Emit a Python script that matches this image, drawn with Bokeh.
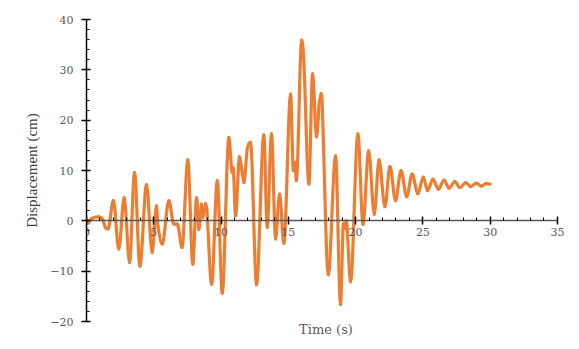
import numpy as np
from bokeh.plotting import figure
from bokeh.models import LinearAxis, SingleIntervalTicker, FixedTicker, ColumnDataSource
from bokeh.embed import file_html
from bokeh.resources import INLINE

# Time (s) and displacement (cm)
time_s = [0.0, 0.1, 0.4, 0.9, 1.2, 1.4, 1.6, 2.0, 2.4, 2.8, 3.2, 3.57, 3.97, 4.46, 4.88,
          5.2, 5.32, 5.63, 6.12, 6.45, 6.8, 7.1, 7.53, 7.9, 8.18, 8.35, 8.55, 8.65, 8.85,
          8.95, 9.3, 9.72, 10.09, 10.58, 10.83, 10.9, 11.08, 11.37, 11.55, 11.7, 11.95,
          12.19, 12.64, 13.18, 13.43, 13.75, 14.05, 14.35, 14.67, 15.17, 15.37, 15.47,
          15.6, 15.99, 16.15, 16.53, 16.8, 17.1, 17.35, 17.5, 17.97, 18.51, 18.88, 19.1,
          19.2, 19.3, 19.63, 20.17, 20.55, 20.97, 21.39, 21.74, 22.18, 22.55, 22.97,
          23.37, 23.8, 24.2, 24.63, 25.03, 25.35, 25.75, 26.15, 26.57, 26.94, 27.38,
          27.76, 28.18, 28.55, 28.97, 29.35, 29.7, 30.0]
displacement_cm = [0.0, -0.5, 0.5, 0.8, 0.3, -1.3, -1.6, 4.0, -5.6, 4.6, -8.3, 9.6, -9.0,
                   7.2, -6.3, 3.0, -1.2, -4.6, 4.0, -0.4, -0.9, -5.3, 12.1, -8.6, 4.6, -1.7,
                   3.3, 0.7, 3.4, 2.0, -12.6, 8.0, -14.4, 16.6, 9.6, 10.6, 1.0, 12.7, 10.0,
                   7.6, 14.3, 15.6, -12.7, 17.1, -1.3, 17.3, -3.6, 5.3, -4.5, 25.2, 10.0,
                   11.6, 8.0, 35.9, 31.9, 7.3, 29.2, 16.7, 24.2, 24.0, -10.7, 12.9, -16.6,
                   -0.5, -1.5, 0.0, -12.1, 17.3, -0.7, 13.9, 1.3, 12.1, 2.8, 10.8, 4.0,
                   10.0, 4.8, 9.3, 5.4, 8.7, 6.0, 8.3, 6.3, 8.1, 6.5, 7.8, 6.6, 7.6, 6.8,
                   7.5, 6.9, 7.4, 7.3]

x_tick_interval = 5
y_tick_interval = 10
x_axis_bounds = (0, 35)

# Smoothed-line rendering (like a spreadsheet "smoothed line"): each segment between
# consecutive read points is drawn as a cubic Bezier; tangents are flat at extrema.
t = np.asarray(time_s, dtype=float)
d = np.asarray(displacement_cm, dtype=float)
m = np.zeros_like(d)
for i in range(1, len(d) - 1):
    if (d[i] - d[i - 1]) * (d[i + 1] - d[i]) > 0:
        m[i] = (d[i + 1] - d[i - 1]) / (t[i + 1] - t[i - 1])
dt = np.diff(t)
src = ColumnDataSource(data=dict(
    x0=t[:-1], y0=d[:-1], x1=t[1:], y1=d[1:],
    cx0=t[:-1] + dt / 3, cy0=d[:-1] + m[:-1] * dt / 3,
    cx1=t[1:] - dt / 3, cy1=d[1:] - m[1:] * dt / 3,
))

p = figure(width=579, height=349, x_range=(0, 35.6), y_range=(-20, 40),
           output_backend="svg", toolbar_location=None,
           x_axis_location=None, y_axis_location=None,
           min_border_left=86, min_border_right=14, min_border_top=19,
           min_border_bottom=28)
p.outline_line_color = None
p.xgrid.visible = False
p.ygrid.visible = False
p.background_fill_color = "white"
p.border_fill_color = "white"

p.bezier(x0="x0", y0="y0", x1="x1", y1="y1", cx0="cx0", cy0="cy0", cx1="cx1", cy1="cy1",
         source=src, line_color="#ED7D31", line_width=3.2, line_cap="round")

tick_font = "DejaVu Serif"

yax = LinearAxis(ticker=SingleIntervalTicker(interval=y_tick_interval, num_minor_ticks=5))
yax.axis_line_color = "black"
yax.axis_line_width = 1.5
yax.major_tick_line_color = "black"
yax.major_tick_line_width = 1.5
yax.major_tick_in = 4
yax.major_tick_out = 5
yax.minor_tick_line_color = "black"
yax.minor_tick_in = 3
yax.minor_tick_out = 0
yax.major_label_text_font = tick_font
yax.major_label_text_font_size = "11px"
yax.major_label_text_color = "#595959"
yax.major_label_standoff = 8
yax.axis_label = "Displacement (cm)"
yax.axis_label_text_font = "Liberation Serif"
yax.axis_label_text_font_size = "15px"
yax.axis_label_text_font_style = "normal"
yax.axis_label_text_color = "#404040"
yax.axis_label_standoff = 7
p.add_layout(yax, "left")

xax = LinearAxis(ticker=SingleIntervalTicker(interval=x_tick_interval, num_minor_ticks=5),
                 fixed_location=0, bounds=x_axis_bounds)
xax.axis_line_color = "#595959"
xax.axis_line_width = 1.5
xax.major_tick_line_color = "black"
xax.major_tick_line_width = 1.5
xax.major_tick_in = 4
xax.major_tick_out = 4
xax.minor_tick_line_color = "black"
xax.minor_tick_in = 3
xax.minor_tick_out = 0
xax.major_label_text_font = tick_font
xax.major_label_text_font_size = "11px"
xax.major_label_text_color = "#595959"
xax.major_label_standoff = 3
p.add_layout(xax, "below")

lab = LinearAxis(ticker=FixedTicker(ticks=[]))
lab.axis_line_color = None
lab.major_tick_line_color = None
lab.minor_tick_line_color = None
lab.major_label_text_font_size = "0px"
lab.axis_label = "Time (s)"
lab.axis_label_text_font = tick_font
lab.axis_label_text_font_size = "13px"
lab.axis_label_text_font_style = "normal"
lab.axis_label_text_color = "#595959"
lab.axis_label_standoff = 0
p.add_layout(lab, "below")

open("out.html", "w").write(file_html(p, INLINE))
